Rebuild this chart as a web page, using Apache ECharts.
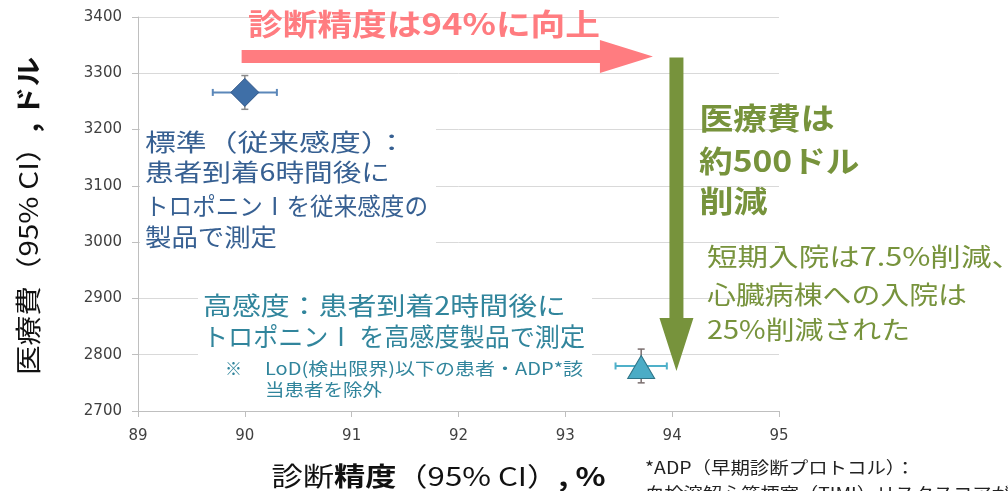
<!DOCTYPE html>
<html>
<head>
<meta charset="utf-8">
<script src="https://cdn.jsdelivr.net/npm/echarts@6/dist/echarts.min.js"></script>
<style>
  html, body { margin: 0; padding: 0; background: #fff; }
  #chart { width: 1008px; height: 491px; }
</style>
</head>
<body>
<div id="chart"></div>
<script>
// data
const pointNames = ["標準（従来感度）", "高感度"];
const accuracy = [90.0, 93.71];
const accuracyErr = [0.30, 0.24];
const cost = [3266, 2780];
const costErr = [30, 30];
const xTicks = [89, 90, 91, 92, 93, 94, 95];
const yTicks = [2700, 2800, 2900, 3000, 3100, 3200, 3300, 3400];
// annotation arrows, in data units
const accuracyArrow = [[89.97, 3330], [93.82, 3330]];
const costArrow = [[94.04, 3328], [94.04, 2771]];

const FONT = '"Noto Sans CJK JP", "Noto Sans", sans-serif';
const markerStyle = [
  { symbol: "diamond", size: [28, 28], offset: [0, 0], fill: "#3f6fa7", border: "#2d5486" },
  { symbol: "triangle", size: [27, 23], offset: [0, 1], fill: "#4bacc6", border: "#2f7487" },
];
const hBarColor = ["#5b87b9", "#4fb0c9"];
const vBarColor = ["#8a8a8a", "#7a6e6e"];

const chart = echarts.init(document.getElementById("chart"));

const option = {
  backgroundColor: "#fff",
  animation: false,
  grid: { left: 138, right: 229, top: 17, bottom: 80 },
  xAxis: {
    type: "value",
    min: xTicks[0],
    max: xTicks[xTicks.length - 1],
    interval: 1,
    axisLine: { lineStyle: { color: "#bfbfbf" } },
    axisTick: { show: true, length: 6, lineStyle: { color: "#bfbfbf" } },
    splitLine: { show: false },
    axisLabel: {
      fontFamily: "DejaVu Sans", fontSize: 15, color: "#404040", margin: 18,
      formatter: (v) => String(v),
    },
  },
  yAxis: {
    type: "value",
    min: yTicks[0],
    max: yTicks[yTicks.length - 1],
    interval: 100,
    axisLine: { show: true, lineStyle: { color: "#bfbfbf" } },
    axisTick: { show: true, length: 6, lineStyle: { color: "#bfbfbf" } },
    splitLine: { show: true, lineStyle: { color: "#d9d9d9" } },
    axisLabel: {
      fontFamily: "DejaVu Sans", fontSize: 15, color: "#404040", margin: 16,
      formatter: (v) => String(v),
    },
  },
  series: [
    {
      name: "error",
      type: "custom",
      z: 2,
      silent: true,
      data: accuracy.map((x, i) => [x, cost[i], accuracyErr[i], costErr[i], i]),
      encode: { x: 0, y: 1 },
      renderItem: function (params, api) {
        const x = api.value(0), y = api.value(1);
        const ex = api.value(2), ey = api.value(3), i = api.value(4);
        const c = api.coord([x, y]);
        const l = api.coord([x - ex, y]), r = api.coord([x + ex, y]);
        const t = api.coord([x, y + ey]), b = api.coord([x, y - ey]);
        const cap = 3.5;
        const hs = { stroke: hBarColor[i], lineWidth: 2 };
        const vs = { stroke: vBarColor[i], lineWidth: 1.5 };
        return {
          type: "group",
          children: [
            { type: "line", shape: { x1: l[0], y1: c[1], x2: r[0], y2: c[1] }, style: hs },
            { type: "line", shape: { x1: l[0], y1: c[1] - cap, x2: l[0], y2: c[1] + cap }, style: hs },
            { type: "line", shape: { x1: r[0], y1: c[1] - cap, x2: r[0], y2: c[1] + cap }, style: hs },
            { type: "line", shape: { x1: c[0], y1: t[1], x2: c[0], y2: b[1] }, style: vs },
            { type: "line", shape: { x1: c[0] - cap, y1: t[1], x2: c[0] + cap, y2: t[1] }, style: vs },
            { type: "line", shape: { x1: c[0] - cap, y1: b[1], x2: c[0] + cap, y2: b[1] }, style: vs },
          ],
        };
      },
    },
    {
      name: "points",
      type: "scatter",
      z: 3,
      data: accuracy.map((x, i) => ({
        name: pointNames[i],
        value: [x, cost[i]],
        symbol: markerStyle[i].symbol,
        symbolSize: markerStyle[i].size,
        symbolOffset: markerStyle[i].offset,
        itemStyle: { color: markerStyle[i].fill, borderColor: markerStyle[i].border, borderWidth: 1, opacity: 1 },
      })),
    },
  ],
};
chart.setOption(option);

// ---- annotations ----
const ctx = document.createElement("canvas").getContext("2d");
const measure = (s, size, weight) => {
  ctx.font = `${weight} ${size}px ${FONT}`;
  return ctx.measureText(s).width;
};
// parts: [[text, weight], ...]; o: {x, y, size, color, width, align, rotation}
function textRun(parts, o) {
  let w = 0;
  const kids = [];
  parts.forEach(([t, wt]) => {
    kids.push({
      type: "text", x: w, y: 0, z: 6, silent: true,
      style: {
        text: t, fontSize: o.size, fontWeight: wt, fontFamily: FONT, fill: o.color,
        textAlign: "left", textVerticalAlign: "middle", verticalAlign: "middle",
      },
    });
    w += measure(t, o.size, wt);
  });
  if (o.align === "center") kids.forEach((k) => (k.x -= w / 2));
  return {
    type: "group", x: o.x, y: o.y, rotation: o.rotation || 0,
    scaleX: o.width ? o.width / w : 1, children: kids,
  };
}
const line = (s, x, y, size, color, width, weight) =>
  textRun([[s, weight || "normal"]], { x, y, size, color, width });

const px = (p) => chart.convertToPixel({ gridIndex: 0 }, p);

function hArrow(a, shaft, headLen, headHalf, color) {
  const p0 = px(a[0]), p1 = px(a[1]);
  const y = p0[1], hs = shaft / 2, hb = p1[0] - headLen;
  return {
    type: "polygon", z: 5, silent: true,
    shape: { points: [[p0[0], y - hs], [hb, y - hs], [hb, y - headHalf], [p1[0], y], [hb, y + headHalf], [hb, y + hs], [p0[0], y + hs]] },
    style: { fill: color },
  };
}
function vArrow(a, shaft, headLen, headHalf, color) {
  const p0 = px(a[0]), p1 = px(a[1]);
  const x = p0[0], hs = shaft / 2, hb = p1[1] - headLen;
  return {
    type: "polygon", z: 5, silent: true,
    shape: { points: [[x - hs, p0[1]], [x - hs, hb], [x - headHalf, hb], [x, p1[1]], [x + headHalf, hb], [x + hs, hb], [x + hs, p0[1]]] },
    style: { fill: color },
  };
}

const BLUE = "#376092", TEAL = "#31859c", GREEN = "#77933c", PINK = "#ff7c80";

const graphic = [
  // white text boxes that hide the grid lines
  { type: "rect", z: 1, silent: true, shape: { x: 140, y: 124, width: 296, height: 130 }, style: { fill: "#fff" } },
  { type: "rect", z: 1, silent: true, shape: { x: 198, y: 288, width: 394, height: 112 }, style: { fill: "#fff" } },
  hArrow(accuracyArrow, 13, 53, 16.5, PINK),
  vArrow(costArrow, 14, 53, 17, GREEN),

  line("診断精度は94%に向上", 248, 24, 30, PINK, 352, "bold"),

  line("医療費は", 699.5, 117.5, 30, GREEN, 135, "bold"),
  line("約500ドル", 699, 160.5, 30, GREEN, 160.5, "bold"),
  line("削減", 699.5, 201, 30, GREEN, 68, "bold"),
  line("短期入院は7.5%削減、", 707, 256, 25, GREEN, 315),
  line("心臓病棟への入院は", 707, 294.3, 25, GREEN, 260),
  line("25%削減された", 707, 329.4, 25, GREEN, 203),

  line("標準（従来感度）：", 145, 142, 24, BLUE, 262),
  line("患者到着6時間後に", 145, 172, 24, BLUE, 245),
  line("トロポニンⅠを従来感度の", 145, 205.7, 24, BLUE, 283),
  line("製品で測定", 145, 236.7, 24, BLUE, 132),

  line("高感度：患者到着2時間後に", 203, 305, 25, TEAL, 363),
  line("トロポニンⅠ を高感度製品で測定", 203, 336.7, 25, TEAL, 382),
  line("※", 225, 369, 17, TEAL),
  line("LoD(検出限界)以下の患者・ADP*該", 265, 369, 17, TEAL, 318),
  line("当患者を除外", 265, 390, 17, TEAL, 117),

  textRun([["診断", "normal"], ["精度", "bold"], ["（95% CI）", "normal"], [", %", "bold"]],
    { x: 271.5, y: 476.5, size: 26, color: "#111", width: 334 }),
  textRun([["医療費", "normal"], ["（95% CI）", "normal"], [", ", "bold"], ["ドル", "bold"]],
    { x: 28.5, y: 216, size: 26, color: "#111", width: 318, align: "center", rotation: Math.PI / 2 }),

  line("*ADP（早期診断プロトコル）：", 645, 468, 17, "#222", 270),
  line("血栓溶解心筋梗塞（TIMI）リスクスコアが低", 645, 494, 17, "#222", 385),
];
chart.setOption({ graphic: graphic });
</script>
</body>
</html>
